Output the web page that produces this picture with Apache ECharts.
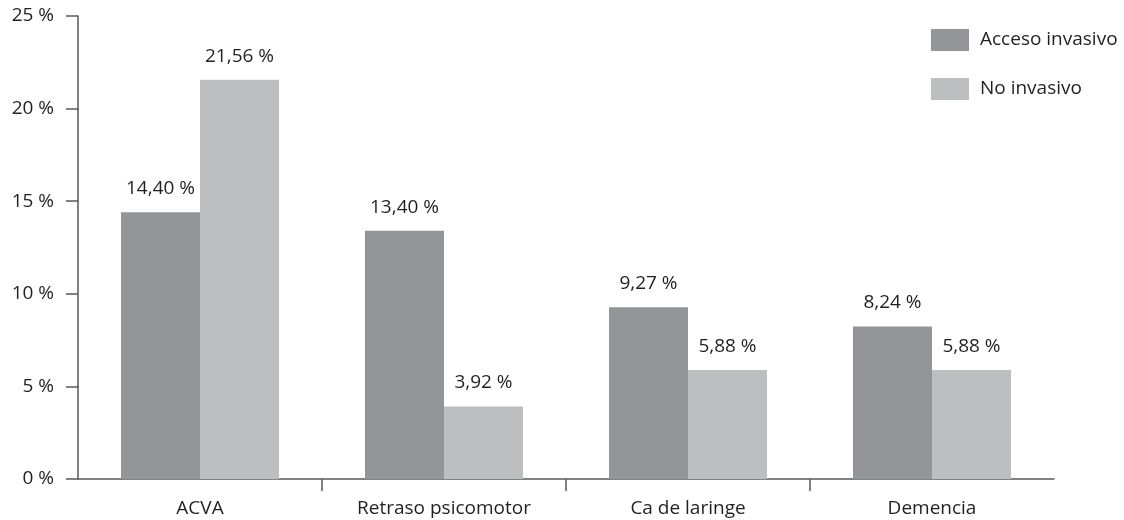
<!DOCTYPE html>
<html lang="es">
<head>
    <meta charset="UTF-8">
    <title>Chart</title>
    <script src="https://cdn.jsdelivr.net/npm/echarts@6/dist/echarts.min.js"></script>
    <style>
        *{
            margin: 0;
            padding: 0;
        }
        .container{
            width: 1124px;
            height: 520px;
        }
    </style>
</head>
<body>
<div class="container"></div>
<script>
    let categories=['ACVA','Retraso psicomotor','Ca de laringe','Demencia']
    let invasivo=[14.40,13.40,9.27,8.24]
    let noInvasivo=[21.56,3.92,5.88,5.88]
    let yTicks=[0,5,10,15,20,25]
    let seriesNames=['Acceso invasivo','No invasivo']

    let textColor='#231f20'
    let axisColor='#58595b'
    let font='Open Sans'
    let fs=19

    let chart=echarts.init(document.querySelector('.container'))

    let fmt=function (p) {
        return p.value.toFixed(2).replace('.',',')+' %'
    }

    let option={
        backgroundColor:'#ffffff',
        textStyle:{fontFamily:font,color:textColor},
        grid:{left:78,right:70,top:16,bottom:41},
        legend:{
            orient:'vertical',
            left:926,
            top:24,
            itemWidth:38,
            itemHeight:22,
            itemGap:27,
            icon:'rect',
            data:seriesNames,
            textStyle:{fontFamily:font,fontSize:fs,color:textColor,padding:[0,0,0,6]}
        },
        xAxis:[{
            type:'category',
            data:categories,
            axisLine:{lineStyle:{color:axisColor,width:1.5}},
            axisTick:{show:false},
            axisLabel:{fontFamily:font,fontSize:fs,color:textColor,margin:20}
        },{
            type:'value',
            min:0,
            max:4,
            position:'bottom',
            axisLine:{show:false},
            axisLabel:{show:false},
            splitLine:{show:false},
            axisTick:{
                show:true,
                length:12,
                customValues:[1,2,3],
                lineStyle:{color:axisColor,width:1.5}
            }
        }],
        yAxis:{
            type:'value',
            min:yTicks[0],
            max:yTicks[yTicks.length-1],
            interval:5,
            splitLine:{show:false},
            axisLine:{show:true,lineStyle:{color:axisColor,width:1.5}},
            axisTick:{show:true,length:12,lineStyle:{color:axisColor,width:1.5}},
            axisLabel:{fontFamily:font,fontSize:fs,color:textColor,margin:24,formatter:'{value} %'}
        },
        series:[{
            name:seriesNames[0],
            type:'bar',
            data:invasivo,
            barWidth:79,
            barGap:0,
            itemStyle:{color:'#939598'},
            label:{show:true,position:'top',distance:14,fontFamily:font,fontSize:fs,color:textColor,formatter:fmt}
        },{
            name:seriesNames[1],
            type:'bar',
            data:noInvasivo,
            barWidth:79,
            barGap:0,
            itemStyle:{color:'#bcbec0'},
            label:{show:true,position:'top',distance:14,fontFamily:font,fontSize:fs,color:textColor,formatter:fmt}
        }]
    }

    chart.setOption(option)
</script>
</body>
</html>
